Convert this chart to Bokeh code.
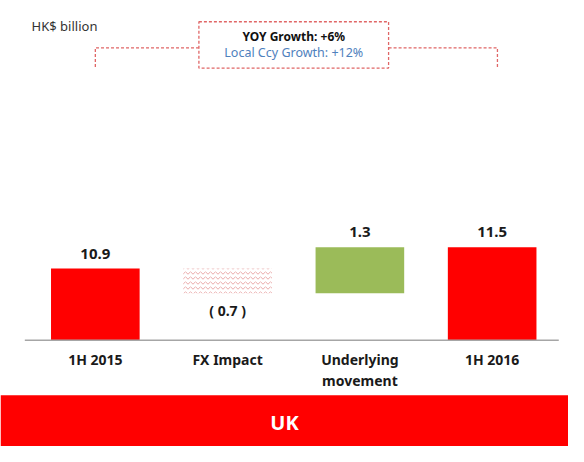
from bokeh.plotting import figure
from bokeh.models import Range1d, BoxAnnotation, Label
from bokeh.core.properties import value
from bokeh.embed import file_html
from bokeh.resources import INLINE

# ---- data ----
categories = ["1H 2015", "FX Impact", "Underlying\nmovement", "1H 2016"]
values = [10.9, -0.7, 1.3, 11.5]
kinds = ["total", "delta", "delta", "total"]
unit_label = "HK$ billion"
yoy_text = "YOY Growth: +6%"
local_text = "Local Ccy Growth: +12%"
region = "UK"

# ---- layout (ranges mapped onto a 584x462 design space) ----
W, H = 568, 446
PX_X = 136.0          # design px per category
PX_Y = 36.67          # design px per HK$ bn
BASE = 8.874          # axis break (value at baseline)
X0 = -97.5 / PX_X
X1 = X0 + 584 / PX_X
Y1 = BASE + 352 / PX_Y
Y0 = Y1 - 462 / PX_Y
FONT = "Noto Sans"

def sx(px):
    return X0 + px / PX_X

def sy(py):
    return Y1 - py / PX_Y

p = figure(width=W, height=H, x_range=Range1d(X0, X1), y_range=Range1d(Y0, Y1),
           output_backend="svg", toolbar_location=None,
           x_axis_location=None, y_axis_location=None, min_border=0)
p.grid.visible = False
p.outline_line_color = None
p.background_fill_color = "white"
p.border_fill_color = "white"

# waterfall geometry
xs = list(range(len(categories)))
bottoms, tops = [], []
running = 0.0
for v, k in zip(values, kinds):
    if k == "total":
        bottoms.append(BASE)
        tops.append(v)
        running = v
    else:
        new = running + v
        bottoms.append(min(running, new))
        tops.append(max(running, new))
        running = new

BW = 0.67
solid_x, solid_t, solid_b, solid_c = [], [], [], []
neg_x, neg_t, neg_b = [], [], []
for i, (v, k) in enumerate(zip(values, kinds)):
    if k == "delta" and v < 0:
        neg_x.append(i); neg_t.append(tops[i]); neg_b.append(bottoms[i])
    else:
        solid_x.append(i); solid_t.append(tops[i]); solid_b.append(bottoms[i])
        solid_c.append("#ff0000" if k == "total" else "#9bbb59")

p.vbar(x=solid_x, top=solid_t, bottom=solid_b, width=BW, fill_color=solid_c, line_color=None)
p.vbar(x=neg_x, top=neg_t, bottom=neg_b, width=BW, fill_color="white", line_color=None,
       hatch_pattern="horizontal_wave", hatch_color="#e9a9a9", hatch_scale=5, hatch_weight=1)

# baseline
p.segment(x0=[sx(25)], y0=[BASE], x1=[sx(574)], y1=[BASE], line_color="#a6a6a6", line_width=1.5)

# value labels
for i, v in enumerate(values):
    if v >= 0:
        p.text(x=[i], y=[tops[i]], text=[f"{v:.1f}"], y_offset=-15,
               text_align="center", text_baseline="middle", text_font=value(FONT),
               text_font_style="bold", text_font_size="15px", text_color="#1a1a1a")
    else:
        p.text(x=[i], y=[bottoms[i]], text=[f"( {abs(v):.1f} )"], y_offset=17,
               text_align="center", text_baseline="middle", text_font=value(FONT),
               text_font_style="bold", text_font_size="14px", text_color="#1a1a1a")

# category labels
for i, c in enumerate(categories):
    for j, line in enumerate(c.split("\n")):
        p.text(x=[i], y=[BASE], text=[line], y_offset=19 + 21 * j,
               text_align="center", text_baseline="middle", text_font=value(FONT),
               text_font_style="bold", text_font_size="14px", text_color="#1a1a1a")

# unit label
p.add_layout(Label(x=sx(32), y=sy(26), text=unit_label, text_align="left",
                   text_baseline="middle", text_font=FONT, text_font_size="13px",
                   text_color="#333333"))

# growth bracket
DASH_C = "#e06666"
cx = (xs[0] + xs[-1]) / 2
bhw = 0.717
p.line(x=[xs[0], xs[0], cx - bhw], y=[sy(69), sy(49), sy(49)],
       line_color=DASH_C, line_dash="3 2", line_width=1.3)
p.line(x=[cx + bhw, xs[-1] + 0.04, xs[-1] + 0.04], y=[sy(49), sy(49), sy(70)],
       line_color=DASH_C, line_dash="3 2", line_width=1.3)
p.quad(left=[cx - bhw], right=[cx + bhw], top=[sy(22)], bottom=[sy(70)],
       fill_color="white", line_color=DASH_C, line_dash="3 2", line_width=1.3)
p.text(x=[cx], y=[sy(37)], text=[yoy_text], text_align="center", text_baseline="middle",
       text_font=value(FONT), text_font_style="bold", text_font_size="12px", text_color="#111111")
p.text(x=[cx], y=[sy(54)], text=[local_text], text_align="center", text_baseline="middle",
       text_font=value(FONT), text_font_size="12.5px", text_color="#4f81bd")

# region banner
p.add_layout(BoxAnnotation(top=sy(409), fill_color="#ff0000", fill_alpha=1.0, line_color=None))
p.add_layout(Label(x=(X0 + X1) / 2, y=sy(437), text=region, text_align="center",
                   text_baseline="middle", text_font=FONT, text_font_style="bold",
                   text_font_size="20px", text_color="white"))

open("out.html", "w").write(file_html(p, INLINE))
